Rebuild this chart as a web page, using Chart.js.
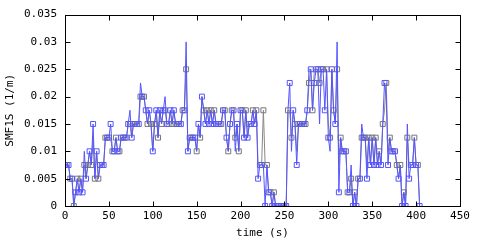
<!DOCTYPE html>
<html>
<head>
<meta charset="utf-8">
<script src="https://cdn.jsdelivr.net/npm/chart.js@4/dist/chart.umd.min.js"></script>
<style>
  html, body { margin: 0; padding: 0; background: #fff; }
  #wrap { width: 480px; height: 240px; }
</style>
</head>
<body>
<div id="wrap"><canvas id="smf"></canvas></div>
<script>
// sample spacing in seconds (x = index * STEP)
const STEP = 2;
const X_TICKS = [0, 50, 100, 150, 200, 250, 300, 350, 400, 450];
const Y_TICKS = [0, 0.005, 0.01, 0.015, 0.02, 0.025, 0.03, 0.035];

// blue trace
const smfBlue = [
  .0075, .0075, .0075, .005, .005, 0, .0025, .005, .0025, .005,
  .0025, .01, .005, .0075, .01, .0075, .015, .005, .01, .005,
  .0075, .0075, .0075, .0125, .0125, .0125, .015, .01, .01, .0125,
  .01, .01, .0125, .0125, .0125, .0125, .015, .0175, .0125, .015,
  .015, .015, .015, .0225, .02, .02, .0175, .015, .0175, .015,
  .01, .015, .0175, .0125, .0175, .015, .0175, .02, .015, .015,
  .0175, .015, .0175, .015, .015, .015, .015, .0175, .0175, .03,
  .01, .0125, .0125, .0125, .0125, .01, .015, .0125, .02, .0175,
  .015, .0175, .015, .0175, .015, .0175, .015, .015, .015, .015,
  .0175, .0175, .0125, .01, .015, .0175, .0175, .01, .015, .01,
  .0175, .0175, .0125, .0175, .0125, .015, .015, .0175, .015, .0175,
  .005, .0075, .0075, .0075, 0, .0075, .0025, .0025, 0, .0025,
  0, 0, 0, 0, 0, 0, 0, .0175, .0225, .01,
  .0175, .015, .0075, .015, .015, .015, .015, .015, .0175, .025,
  .025, .0175, .0225, .025, .025, .015, .025, .025, .0175, .025,
  .0125, .01, .025, .0175, .015, .03, .0025, .0125, .01, .01,
  .01, .0025, .0025, .0075, 0, .0025, 0, .005, .005, .015,
  .0125, .0125, .005, .0125, .0075, .0125, .0075, .0125, .0075, .01,
  .0075, .015, .0225, .02, .0075, .0125, .01, .01, .01, .0075,
  .005, .0075, 0, .0025, 0, .015, .005, .0075, .0075, .0125,
  .0075, .0075, 0
];

// grey trace
const smfGrey = [
  .0075, .0075, .0075, .005, .005, 0, .0025, .005, .0025, .005,
  .0025, .0075, .005, .0075, .01, .0075, .0125, .005, .01, .005,
  .0075, .0075, .0075, .0125, .0125, .0125, .0125, .01, .01, .0125,
  .01, .01, .0125, .0125, .0125, .0125, .015, .015, .0125, .015,
  .015, .015, .015, .02, .02, .02, .0175, .015, .0175, .015,
  .01, .015, .0175, .0125, .0175, .015, .0175, .0175, .015, .015,
  .0175, .015, .0175, .015, .015, .015, .015, .0175, .0175, .025,
  .01, .0125, .0125, .0125, .0125, .01, .015, .0125, .02, .0175,
  .015, .0175, .015, .0175, .015, .0175, .015, .015, .015, .015,
  .0175, .0175, .0125, .01, .015, .0175, .0175, .0125, .015, .01,
  .0175, .0175, .0125, .0175, .0125, .015, .015, .0175, .015, .0175,
  .0075, .0075, .0075, .0175, .0075, .0075, .0025, .0025, 0, .0025,
  0, 0, 0, 0, 0, 0, 0, .0175, .0175, .0125,
  .0175, .015, .01, .015, .015, .015, .015, .015, .0175, .0225,
  .025, .0175, .025, .025, .025, .0225, .025, .025, .025, .025,
  .015, .0125, .025, .0175, .015, .025, .0075, .0125, .01, .01,
  .01, .0025, .0025, .005, 0, .0025, 0, .005, .005, .0125,
  .0125, .0125, .0075, .0125, .0075, .0125, .0075, .0125, .0075, .01,
  .0075, .015, .0175, .0225, .01, .0125, .01, .01, .01, .0075,
  .005, .0075, 0, .0025, 0, .0125, .0075, .0075, .0075, .0125,
  .0075, .0075, 0
];

const FONT = { family: 'DejaVu Sans Mono', size: 11 };

function toPoints(arr) {
  return arr.map((v, i) => ({ x: i * STEP, y: v }));
}

// gnuplot-like frame with inward ticks on all four sides
const frameTicks = {
  id: 'frameTicks',
  afterDatasetsDraw(chart) {
    const { ctx, chartArea: a, scales: { x, y } } = chart;
    const L = Math.round(a.left) + 0.5, R = Math.round(a.right) + 0.5;
    const T = Math.round(a.top) + 0.5, B = Math.round(a.bottom) + 0.5;
    ctx.save();
    ctx.strokeStyle = '#000';
    ctx.lineWidth = 1;
    ctx.beginPath();
    X_TICKS.forEach(v => {
      const px = Math.round(x.getPixelForValue(v)) + 0.5;
      ctx.moveTo(px, B); ctx.lineTo(px, B - 5);
      ctx.moveTo(px, T); ctx.lineTo(px, T + 5);
    });
    Y_TICKS.forEach(v => {
      const py = Math.round(y.getPixelForValue(v)) + 0.5;
      ctx.moveTo(L, py); ctx.lineTo(L + 5, py);
      ctx.moveTo(R, py); ctx.lineTo(R - 5, py);
    });
    ctx.stroke();
    ctx.strokeRect(L, T, R - L, B - T);
    ctx.restore();
  }
};

new Chart(document.getElementById('smf'), {
  type: 'line',
  data: {
    datasets: [
      {
        data: toPoints(smfBlue),
        borderColor: '#5555ff',
        borderWidth: 1,
        pointStyle: 'rect',
        pointRadius: ctx => (ctx.dataIndex % 2 === 0 ? 3.5 : 0),
        pointBorderColor: '#5555ff',
        pointBackgroundColor: 'rgba(0,0,0,0)',
        pointBorderWidth: 1,
        tension: 0
      },
      {
        data: toPoints(smfGrey),
        borderColor: '#888888',
        borderWidth: 1,
        pointStyle: 'rect',
        pointRadius: ctx => (ctx.dataIndex % 2 === 1 ? 3.5 : 0),
        pointBorderColor: '#777777',
        pointBackgroundColor: 'rgba(0,0,0,0)',
        pointBorderWidth: 1,
        tension: 0
      }
    ]
  },
  options: {
    responsive: true,
    maintainAspectRatio: false,
    animation: false,
    devicePixelRatio: 1,
    events: [],
    layout: { padding: { top: 14, right: 20, left: 0, bottom: 0 } },
    plugins: { legend: { display: false }, tooltip: { enabled: false } },
    scales: {
      x: {
        type: 'linear',
        min: 0,
        max: 450,
        afterBuildTicks: s => { s.ticks = X_TICKS.map(v => ({ value: v })); },
        afterFit: s => { s.height = 34; },
        grid: { display: false, drawTicks: false },
        border: { display: false },
        ticks: { font: FONT, color: '#000', padding: 4, maxRotation: 0 },
        title: { display: true, text: 'time (s)', font: FONT, color: '#000', padding: 0 }
      },
      y: {
        min: 0,
        max: 0.035,
        afterBuildTicks: s => { s.ticks = Y_TICKS.map(v => ({ value: v })); },
        afterFit: s => { s.width = 65; },
        grid: { display: false, drawTicks: false },
        border: { display: false },
        ticks: {
          font: FONT, color: '#000', padding: 8,
          callback: v => String(+Number(v).toFixed(3))
        },
        title: { display: true, text: 'SMF1S (1/m)', font: FONT, color: '#000', padding: { top: 4 } }
      }
    }
  },
  plugins: [frameTicks]
});
</script>
</body>
</html>
